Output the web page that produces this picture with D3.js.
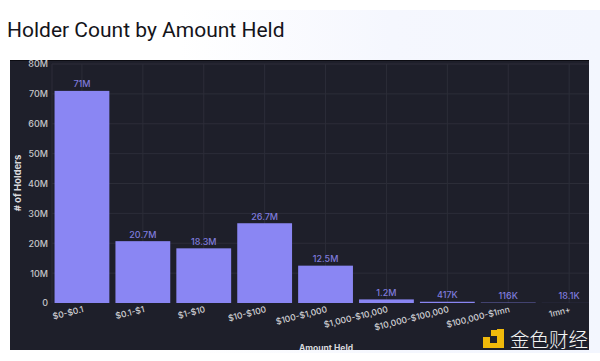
<!DOCTYPE html>
<html>
<head>
<meta charset="utf-8">
<script src="https://cdn.jsdelivr.net/npm/d3@7"></script>
<style>
  html, body { margin: 0; padding: 0; background: #fff; overflow: hidden; }
  svg { display: block; }
  text { font-family: Inter, "Noto Sans", sans-serif; }
</style>
</head>
<body>
<div id="chart"></div>
<script>
// Chart data
const categories = ['$0-$0.1', '$0.1-$1', '$1-$10', '$10-$100', '$100-$1,000', '$1,000-$10,000', '$10,000-$100,000', '$100,000-$1mn', '1mn+'];
const holders = [71000000, 20700000, 18300000, 26700000, 12500000, 1200000, 417000, 116000, 18100];
const valueLabels = ['71M', '20.7M', '18.3M', '26.7M', '12.5M', '1.2M', '417K', '116K', '18.1K'];
const yTicks = [0, 10000000, 20000000, 30000000, 40000000, 50000000, 60000000, 70000000, 80000000];

const width = 600;
const height = 361;
const panel = { left: 10, top: 60, right: 589, bottom: 350 };

const svg = d3.select('#chart')
    .append('svg')
    .attr('width', width)
    .attr('height', height);

// Page background, white fading to a pale blue on the right
const defs = svg.append('defs');
const bg = defs.append('linearGradient').attr('id', 'pageBg');
bg.append('stop').attr('offset', '0.3').attr('stop-color', '#ffffff');
bg.append('stop').attr('offset', '0.65').attr('stop-color', '#f5f7fe');
bg.append('stop').attr('offset', '1').attr('stop-color', '#f3f6fe');

defs.append('clipPath').attr('id', 'panelClip')
    .append('rect')
    .attr('x', panel.left)
    .attr('y', panel.top)
    .attr('width', panel.right - panel.left)
    .attr('height', panel.bottom - panel.top);

svg.append('rect')
    .attr('y', 10)
    .attr('width', width)
    .attr('height', 343)
    .attr('fill', 'url(#pageBg)');

svg.append('text')
    .attr('x', 7)
    .attr('y', 37)
    .attr('font-size', 21)
    .attr('fill', '#14141a')
    .style('font-family', 'Roboto')
    .text('Holder Count by Amount Held');

// Dark panel
svg.append('rect')
    .attr('x', panel.left)
    .attr('y', panel.top)
    .attr('width', panel.right - panel.left)
    .attr('height', panel.bottom - panel.top)
    .attr('fill', '#1e1f2a');
svg.append('line')
    .attr('x1', panel.left).attr('x2', panel.right)
    .attr('y1', 60.5).attr('y2', 60.5)
    .attr('stroke', '#0c0c12');

const x = d3.scaleBand()
    .domain(categories)
    .range([51.5, 599.6])
    .paddingInner(0.1)
    .paddingOuter(0.05);

const y = d3.scaleLinear()
    .domain([0, 80000000])
    .range([303, 64]);

const g = svg.append('g').attr('clip-path', 'url(#panelClip)');

// Grid lines
g.selectAll('.hgrid')
    .data(yTicks.slice(1))
    .enter()
    .append('line')
    .attr('x1', 52)
    .attr('x2', panel.right)
    .attr('y1', d => y(d))
    .attr('y2', d => y(d))
    .attr('stroke', '#2c2d38');

g.selectAll('.vgrid')
    .data(categories)
    .enter()
    .append('line')
    .attr('x1', d => x(d) + x.bandwidth() / 2)
    .attr('x2', d => x(d) + x.bandwidth() / 2)
    .attr('y1', 64)
    .attr('y2', 303)
    .attr('stroke', '#2c2d38');

g.append('line')
    .attr('x1', 52).attr('x2', 52)
    .attr('y1', 64).attr('y2', 303)
    .attr('stroke', '#2c2d38');

// Bars
g.selectAll('.bar')
    .data(categories)
    .enter()
    .append('rect')
    .attr('x', d => x(d))
    .attr('y', (d, i) => y(holders[i]))
    .attr('width', x.bandwidth())
    .attr('height', (d, i) => y(0) - y(holders[i]))
    .attr('fill', '#8a86f3');

// Value labels
g.selectAll('.value')
    .data(categories)
    .enter()
    .append('text')
    .attr('x', d => x(d) + x.bandwidth() / 2)
    .attr('y', (d, i) => y(holders[i]) - 3.5)
    .attr('text-anchor', 'middle')
    .attr('font-size', 9)
    .attr('font-weight', 500)
    .attr('fill', '#7f7bdc')
    .text((d, i) => valueLabels[i]);

// Axes
const yAxis = svg.append('g')
    .attr('transform', 'translate(52,0)')
    .call(d3.axisLeft(y)
        .tickValues(yTicks)
        .tickSize(0)
        .tickPadding(4)
        .tickFormat(d => d === 0 ? '0' : d / 1000000 + 'M'));
yAxis.select('.domain').remove();
yAxis.selectAll('text')
    .attr('font-size', 9)
    .attr('font-weight', 500)
    .attr('fill', '#c4c4c8')
    .attr('font-family', 'Inter');

const xAxis = svg.append('g')
    .attr('transform', 'translate(0,303)')
    .call(d3.axisBottom(x).tickSize(0).tickPadding(0));
xAxis.select('.domain').remove();
xAxis.selectAll('text')
    .attr('font-size', 8.6)
    .attr('font-weight', 500)
    .attr('fill', '#d0d0d4')
    .attr('font-family', 'Inter')
    .attr('text-anchor', 'end')
    .attr('dy', 0)
    .attr('transform', 'translate(2,9) rotate(-14)');

// Axis titles
svg.append('text')
    .attr('transform', 'translate(21,183) rotate(-90)')
    .attr('text-anchor', 'middle')
    .attr('font-size', 9.5)
    .attr('font-weight', 700)
    .attr('fill', '#d8d8dc')
    .text('# of Holders');

svg.append('g')
    .attr('clip-path', 'url(#panelClip)')
    .append('text')
    .attr('x', 326)
    .attr('y', 351)
    .attr('text-anchor', 'middle')
    .attr('font-size', 8.5)
    .attr('font-weight', 700)
    .attr('fill', '#d8d8dc')
    .text('Amount Held');

// Watermark
const logo = svg.append('g').attr('fill', '#f0b90b');
[[497, 329, 7, 19], [483, 343, 21, 5], [483, 337, 7, 6], [491, 330, 6, 6]].forEach(r => {
    logo.append('rect')
        .attr('x', r[0]).attr('y', r[1])
        .attr('width', r[2]).attr('height', r[3]);
});

svg.append('text')
    .attr('x', 510)
    .attr('y', 347)
    .attr('font-size', 19.5)
    .attr('font-weight', 300)
    .attr('fill', '#f4f4f4')
    .style('font-family', '"Noto Sans CJK SC"')
    .text('金色财经');
</script>
</body>
</html>
